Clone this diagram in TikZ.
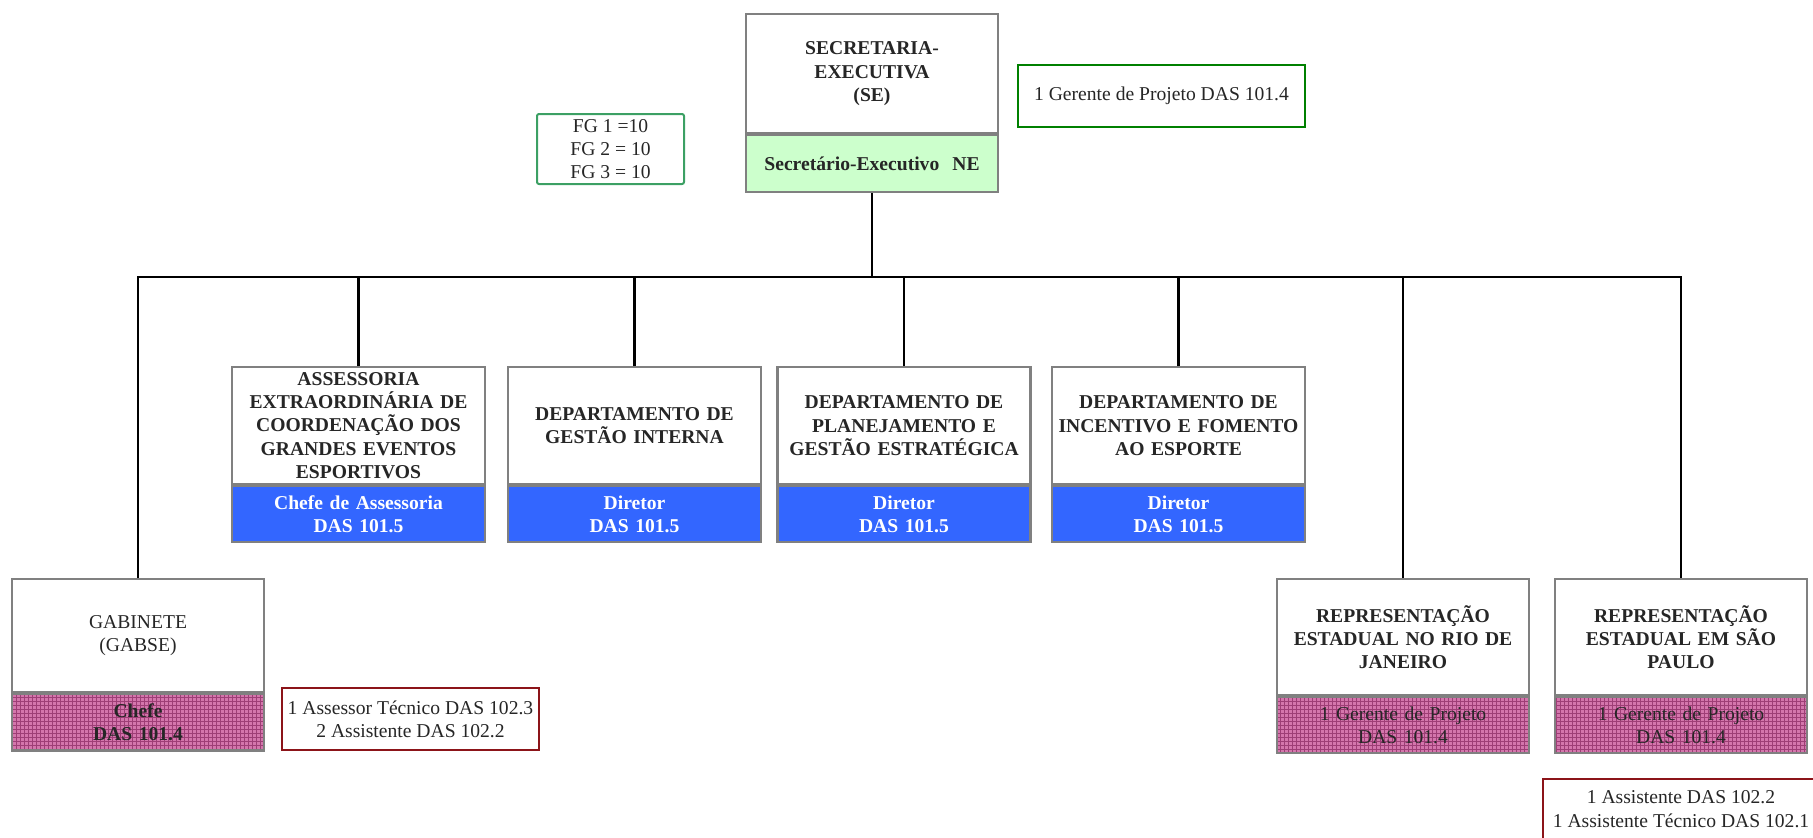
\documentclass[tikz,border=0pt]{standalone}
\usepackage{fontspec}
\setmainfont{Liberation Serif}
\usetikzlibrary{patterns.meta}

\definecolor{azulcargo}{RGB}{51,102,255}
\definecolor{verdecargo}{RGB}{204,255,204}
\definecolor{rosacargo}{RGB}{212,118,172}
\definecolor{rosagrade}{RGB}{158,62,118}
\definecolor{verdeescuro}{RGB}{0,128,0}
\definecolor{verdefg}{RGB}{60,160,100}
\definecolor{vermelhonota}{RGB}{140,20,25}
\definecolor{bordacinza}{RGB}{128,128,128}

\begin{document}
\begin{tikzpicture}[x=0.5pt, y=-0.5pt,
		font=\fontsize{9.8}{11.6}\selectfont,
		orgao/.style={draw=bordacinza, line width=1.1pt, align=center,
			inner xsep=1pt, inner ysep=0pt, anchor=north, text=black!85},
		titulo/.style={orgao, fill=white},
		cargoverde/.style={orgao, fill=verdecargo, font=\fontsize{9.8}{11.6}\selectfont\bfseries},
		cargoazul/.style={orgao, fill=azulcargo, text=white, font=\fontsize{9.8}{11.6}\selectfont\bfseries},
		cargorosa/.style={orgao, preaction={fill=rosacargo},
			pattern={Hatch[angle=0, distance=2pt, line width=0.3pt]}, pattern color=rosagrade},
		linha2/.style={minimum width=126.5pt, text width=124.5pt},
		linha3/.style={minimum width=126pt, text width=124pt},
		nota/.style={draw, align=center, inner sep=1pt, text=black!85},
		ligacao/.style={draw=black, line width=1.3pt}]

		\useasboundingbox (0,0) rectangle (1813,837);
		\clip (0,0) rectangle (1813,837);

		% secretaria-executiva
		\node[titulo, linha3, minimum height=59.5pt, font=\fontsize{9.8}{11.6}\selectfont\bfseries] (se) at (872,13)
			{SECRETARIA-\\EXECUTIVA\\(SE)};
		\node[cargoverde, linha3, minimum height=28.5pt] (se-cargo) at (se.south)
			{Secretário-Executivo~~NE};

		\node[nota, draw=verdeescuro, line width=1.2pt, minimum width=143.5pt, minimum height=31pt] (gerente) at (1161.5,96)
			{1 Gerente de Projeto DAS 101.4};
		\node[nota, draw=verdefg, line width=1pt, rounded corners=1pt, minimum width=73.5pt, minimum height=35pt] (fg) at (610.5,149)
			{FG 1 =10\\FG 2 = 10\\FG 3 = 10};

		% unidades
		\node[titulo, linha2, minimum height=58.5pt, font=\fontsize{9.8}{11.6}\selectfont\bfseries] (ass) at (358.5,366)
			{ASSESSORIA\\EXTRAORDINÁRIA DE\\COORDENAÇÃO DOS\\GRANDES EVENTOS\\ESPORTIVOS};
		\node[cargoazul, linha2, minimum height=28pt] (ass-cargo) at (ass.south)
			{Chefe de Assessoria\\DAS 101.5};

		\node[titulo, linha2, minimum height=58.5pt, font=\fontsize{9.8}{11.6}\selectfont\bfseries] (ges) at (634.5,366)
			{DEPARTAMENTO DE\\GESTÃO INTERNA};
		\node[cargoazul, linha2, minimum height=28pt] (ges-cargo) at (ges.south)
			{Diretor\\DAS 101.5};

		\node[titulo, linha2, minimum height=58.5pt, font=\fontsize{9.8}{11.6}\selectfont\bfseries] (plan) at (904,366)
			{DEPARTAMENTO DE\\PLANEJAMENTO E\\GESTÃO ESTRATÉGICA};
		\node[cargoazul, linha2, minimum height=28pt] (plan-cargo) at (plan.south)
			{Diretor\\DAS 101.5};

		\node[titulo, linha2, minimum height=58.5pt, font=\fontsize{9.8}{11.6}\selectfont\bfseries] (inc) at (1178.5,366)
			{DEPARTAMENTO DE\\INCENTIVO E FOMENTO\\AO ESPORTE};
		\node[cargoazul, linha2, minimum height=28pt] (inc-cargo) at (inc.south)
			{Diretor\\DAS 101.5};

		\node[titulo, linha3, minimum height=56.5pt] (gab) at (138,578)
			{GABINETE\\(GABSE)};
		\node[cargorosa, linha3, minimum height=28.5pt, font=\fontsize{9.8}{11.6}\selectfont\bfseries] (gab-cargo) at (gab.south)
			{Chefe\\DAS 101.4};

		\node[titulo, linha3, minimum height=58pt, font=\fontsize{9.8}{11.6}\selectfont\bfseries] (rio) at (1403,578)
			{REPRESENTAÇÃO\\ESTADUAL NO RIO DE\\JANEIRO};
		\node[cargorosa, linha3, minimum height=28pt] (rio-cargo) at (rio.south)
			{1 Gerente de Projeto\\DAS 101.4};

		\node[titulo, linha3, minimum height=58pt, font=\fontsize{9.8}{11.6}\selectfont\bfseries] (sp) at (1681,578)
			{REPRESENTAÇÃO\\ESTADUAL EM SÃO\\PAULO};
		\node[cargorosa, linha3, minimum height=28pt] (sp-cargo) at (sp.south)
			{1 Gerente de Projeto\\DAS 101.4};

		\node[nota, draw=vermelhonota, line width=1pt, minimum width=128.5pt, minimum height=31pt] (gab-nota) at (410.5,719)
			{1 Assessor Técnico DAS 102.3\\2 Assistente DAS 102.2};
		\node[nota, draw=vermelhonota, line width=1pt, minimum width=138pt, minimum height=30pt] (sp-nota) at (1681,809)
			{1 Assistente DAS 102.2\\1 Assistente Técnico DAS 102.1};

		% ligacoes
		\coordinate (barra) at (872,277);
		\draw[ligacao] (se-cargo.south) -- (barra);
		\draw[ligacao] (gab.north) -- (gab.north |- barra) -- (sp.north |- barra) -- (sp.north);
		\draw[ligacao] (ass.north) -- (ass.north |- barra);
		\draw[ligacao] (ges.north) -- (ges.north |- barra);
		\draw[ligacao] (plan.north) -- (plan.north |- barra);
		\draw[ligacao] (inc.north) -- (inc.north |- barra);
		\draw[ligacao] (rio.north) -- (rio.north |- barra);
	\end{tikzpicture}
\end{document}
